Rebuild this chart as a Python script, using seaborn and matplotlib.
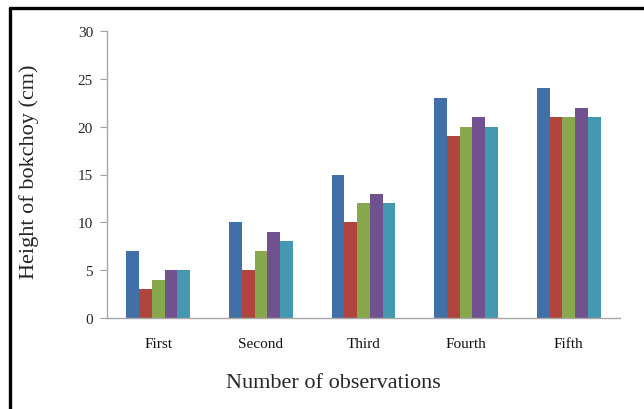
import matplotlib
matplotlib.use("Agg")
import matplotlib.pyplot as plt
import matplotlib.lines as mlines
import pandas as pd
import seaborn as sns

observations = ["First", "Second", "Third", "Fourth", "Fifth"]
series = ["A", "B", "C", "D", "E"]
values_a = [7, 10, 15, 23, 24]
values_b = [3, 5, 10, 19, 21]
values_c = [4, 7, 12, 20, 21]
values_d = [5, 9, 13, 21, 22]
values_e = [5, 8, 12, 20, 21]
y_ticks = [0, 5, 10, 15, 20, 25, 30]

colors = ["#4170A8", "#B04540", "#88A84E", "#71528F", "#4499B0"]

rows = []
for name, vals in zip(series, [values_a, values_b, values_c, values_d, values_e]):
    for obs, v in zip(observations, vals):
        rows.append({"observation": obs, "series": name, "height": v})
df = pd.DataFrame(rows)

sns.set_style("white")
plt.rcParams["font.family"] = ["Liberation Serif", "DejaVu Serif"]

fig = plt.figure(figsize=(6.44, 4.10), dpi=100)
ax = fig.add_axes([107 / 644, 1 - 319 / 410, (620 - 107) / 644, (319 - 32) / 410])

sns.barplot(data=df, x="observation", y="height", hue="series",
            order=observations, hue_order=series, palette=colors,
            width=0.62, saturation=1, legend=False, ax=ax, linewidth=0)

ax.set_xlim(-0.5, 4.5)
ax.set_ylim(0, 30)
ax.set_yticks(y_ticks)
ax.set_yticklabels([str(t) for t in y_ticks], fontsize=11)
ax.tick_params(axis="y", which="both", left=True, length=5, width=0.8,
               color="#a0a0a0", pad=5)
ax.tick_params(axis="x", bottom=False, labelsize=11, pad=10)
for lbl in ax.get_xticklabels():
    lbl.set_color("#111111")

for side in ["top", "right"]:
    ax.spines[side].set_visible(False)
for side in ["left", "bottom"]:
    ax.spines[side].set_color("#a8a8a8")
    ax.spines[side].set_linewidth(1.0)

ax.set_xlabel("")
ax.set_ylabel("")
fig.text(333 / 644, 1 - 384 / 410, "Number of observations", fontsize=16,
         ha="center", va="center")
fig.text(29 / 644, 1 - 172 / 410, "Height of bokchoy (cm)", fontsize=16,
         ha="center", va="center", rotation=90)

# outer frame: top and left edges
fig.add_artist(mlines.Line2D([10 / 644, 1], [1 - 8.5 / 410, 1 - 8.5 / 410],
                             transform=fig.transFigure, color="black", linewidth=2.4))
fig.add_artist(mlines.Line2D([10 / 644, 10 / 644], [0, 1 - 8.5 / 410],
                             transform=fig.transFigure, color="black", linewidth=2.4))

fig.savefig("out.png", dpi=100)
